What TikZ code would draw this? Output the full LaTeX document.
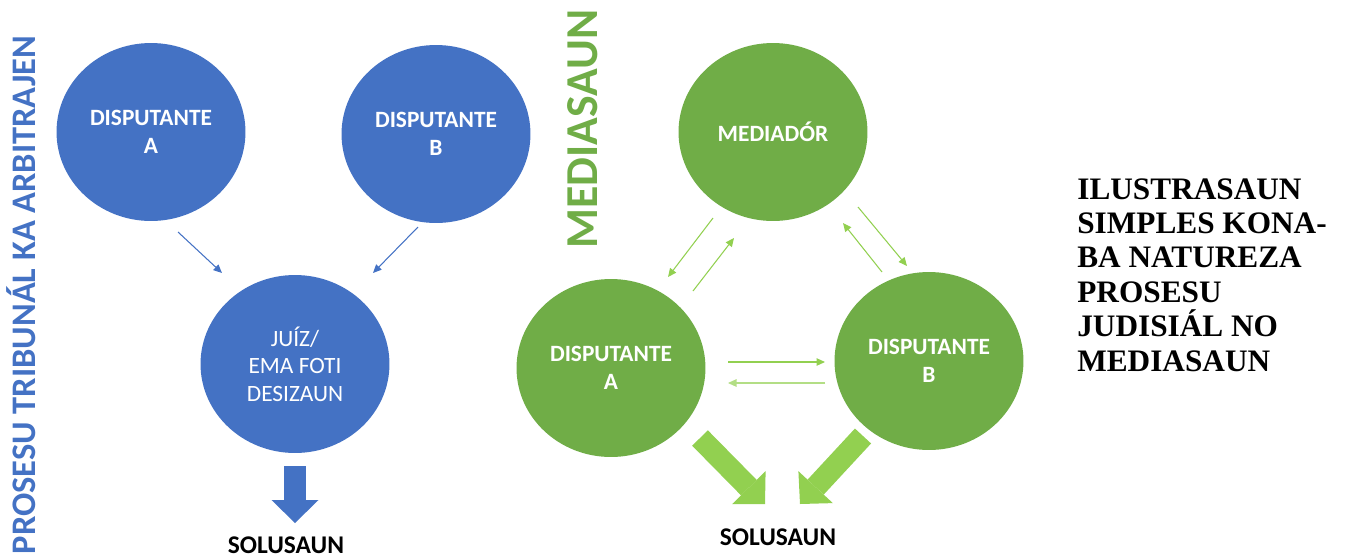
\documentclass[tikz,border=0pt]{standalone}
\usepackage{fontspec}
\setmainfont{Carlito}
\newfontfamily\serifbold{Liberation Serif}
\usepackage{tikz}
\usetikzlibrary{positioning,shapes.geometric,arrows.meta}
\definecolor{courtblue}{HTML}{4472C4}
\definecolor{mediagreen}{HTML}{70AD47}
\definecolor{arrowgreen}{HTML}{92D050}

\begin{document}
\begin{tikzpicture}[x=0.02cm, y=-0.02cm, >=latex,
    every node/.style={font=\fontsize{13}{16}\selectfont},
    party/.style={ellipse, minimum width=3.78cm, minimum height=3.56cm, inner sep=0pt, text=white, align=center},
    thinarrow/.style={-{Triangle[length=0.17cm, width=0.15cm]}, line width=0.6pt},
    bigarrow/.style={-{Triangle[length=0.46cm, width=0.94cm, line width=0pt]}, line width=0.44cm},
    sidetitle/.style={rotate=90, anchor=base, font=\fontsize{19.6}{22}\selectfont\bfseries}]
    \useasboundingbox (0,0) rectangle (1350,559);

    % Left side: court / arbitration
    \node[sidetitle, text=courtblue] (courttitle) at (35,295) {PROSESU TRIBUNÁL KA ARBITRAJEN};

    % Disputants going to the judge
    \node[party, fill=courtblue, font=\fontsize{13.3}{16}\selectfont\bfseries] (courtA) at (151,132) {DISPUTANTE\\A};
    \node[party, fill=courtblue, font=\fontsize{13.3}{16}\selectfont\bfseries] (courtB) at (436,134) {DISPUTANTE\\B};

    % Judge / decision maker
    \node[party, fill=courtblue, font=\fontsize{13.3}{15.6}\selectfont] (judge) at (295,364) {JUÍZ/\\EMA FOTI\\DESIZAUN};

    \coordinate (ca1) at (178,232);
    \coordinate (ca2) at (222,273);
    \coordinate (cb1) at (418,227);
    \coordinate (cb2) at (373,273);
    \draw[thinarrow, courtblue] (ca1) -- (ca2);
    \draw[thinarrow, courtblue] (cb1) -- (cb2);

    % Result of the court
    \node[font=\fontsize{14.5}{16}\selectfont\bfseries, anchor=base] (courtend) at (286,553) {SOLUSAUN};
    \coordinate (cs1) at (295,466);
    \coordinate (cs2) at (295,523);
    \draw[bigarrow, courtblue] (cs1) -- (cs2);

    % Right side: mediation
    \node[sidetitle, text=mediagreen, font=\fontsize{26}{28}\selectfont\bfseries] (mediatitle) at (597,129) {MEDIASAUN};

    \node[party, fill=mediagreen, font=\fontsize{13.3}{16}\selectfont\bfseries] (mediator) at (773,132) {MEDIADÓR};
    \node[party, fill=mediagreen, font=\fontsize{13.3}{16}\selectfont\bfseries] (mediaA) at (611,368) {DISPUTANTE\\A};
    \node[party, fill=mediagreen, font=\fontsize{13.3}{16}\selectfont\bfseries] (mediaB) at (929,361) {DISPUTANTE\\B};

    % Talking both ways
    \coordinate (ma1) at (713,218);
    \coordinate (ma2) at (668,277);
    \coordinate (am1) at (693,291);
    \coordinate (am2) at (734,238);
    \coordinate (mb1) at (858,207);
    \coordinate (mb2) at (907,266);
    \coordinate (bm1) at (882,272);
    \coordinate (bm2) at (843,223);
    \coordinate (ab1) at (728,362);
    \coordinate (ab2) at (825,362);
    \coordinate (ba1) at (825,383);
    \coordinate (ba2) at (728,383);
    \draw[thinarrow, arrowgreen] (ma1) -- (ma2);
    \draw[thinarrow, arrowgreen] (am1) -- (am2);
    \draw[thinarrow, arrowgreen] (mb1) -- (mb2);
    \draw[thinarrow, arrowgreen] (bm1) -- (bm2);
    \draw[thinarrow, arrowgreen] (ab1) -- (ab2);
    \draw[thinarrow, arrowgreen!70] (ba1) -- (ba2);

    % Result of the mediation
    \node[font=\fontsize{14.5}{16}\selectfont\bfseries, anchor=base] (mediaend) at (778,545) {SOLUSAUN};
    \coordinate (ms1) at (700,438);
    \coordinate (ms2) at (765,504);
    \coordinate (ms3) at (863,436);
    \coordinate (ms4) at (800,504);
    \draw[bigarrow, arrowgreen] (ms1) -- (ms2);
    \draw[bigarrow, arrowgreen] (ms3) -- (ms4);

    % Caption
    \node[anchor=north west, inner sep=0pt, align=left, font=\serifbold\bfseries\fontsize{17.8}{19.6}\selectfont] (caption) at (1077,178) {ILUSTRASAUN\\SIMPLES KONA-\\BA NATUREZA\\PROSESU\\JUDISIÁL NO\\MEDIASAUN};
\end{tikzpicture}
\end{document}
